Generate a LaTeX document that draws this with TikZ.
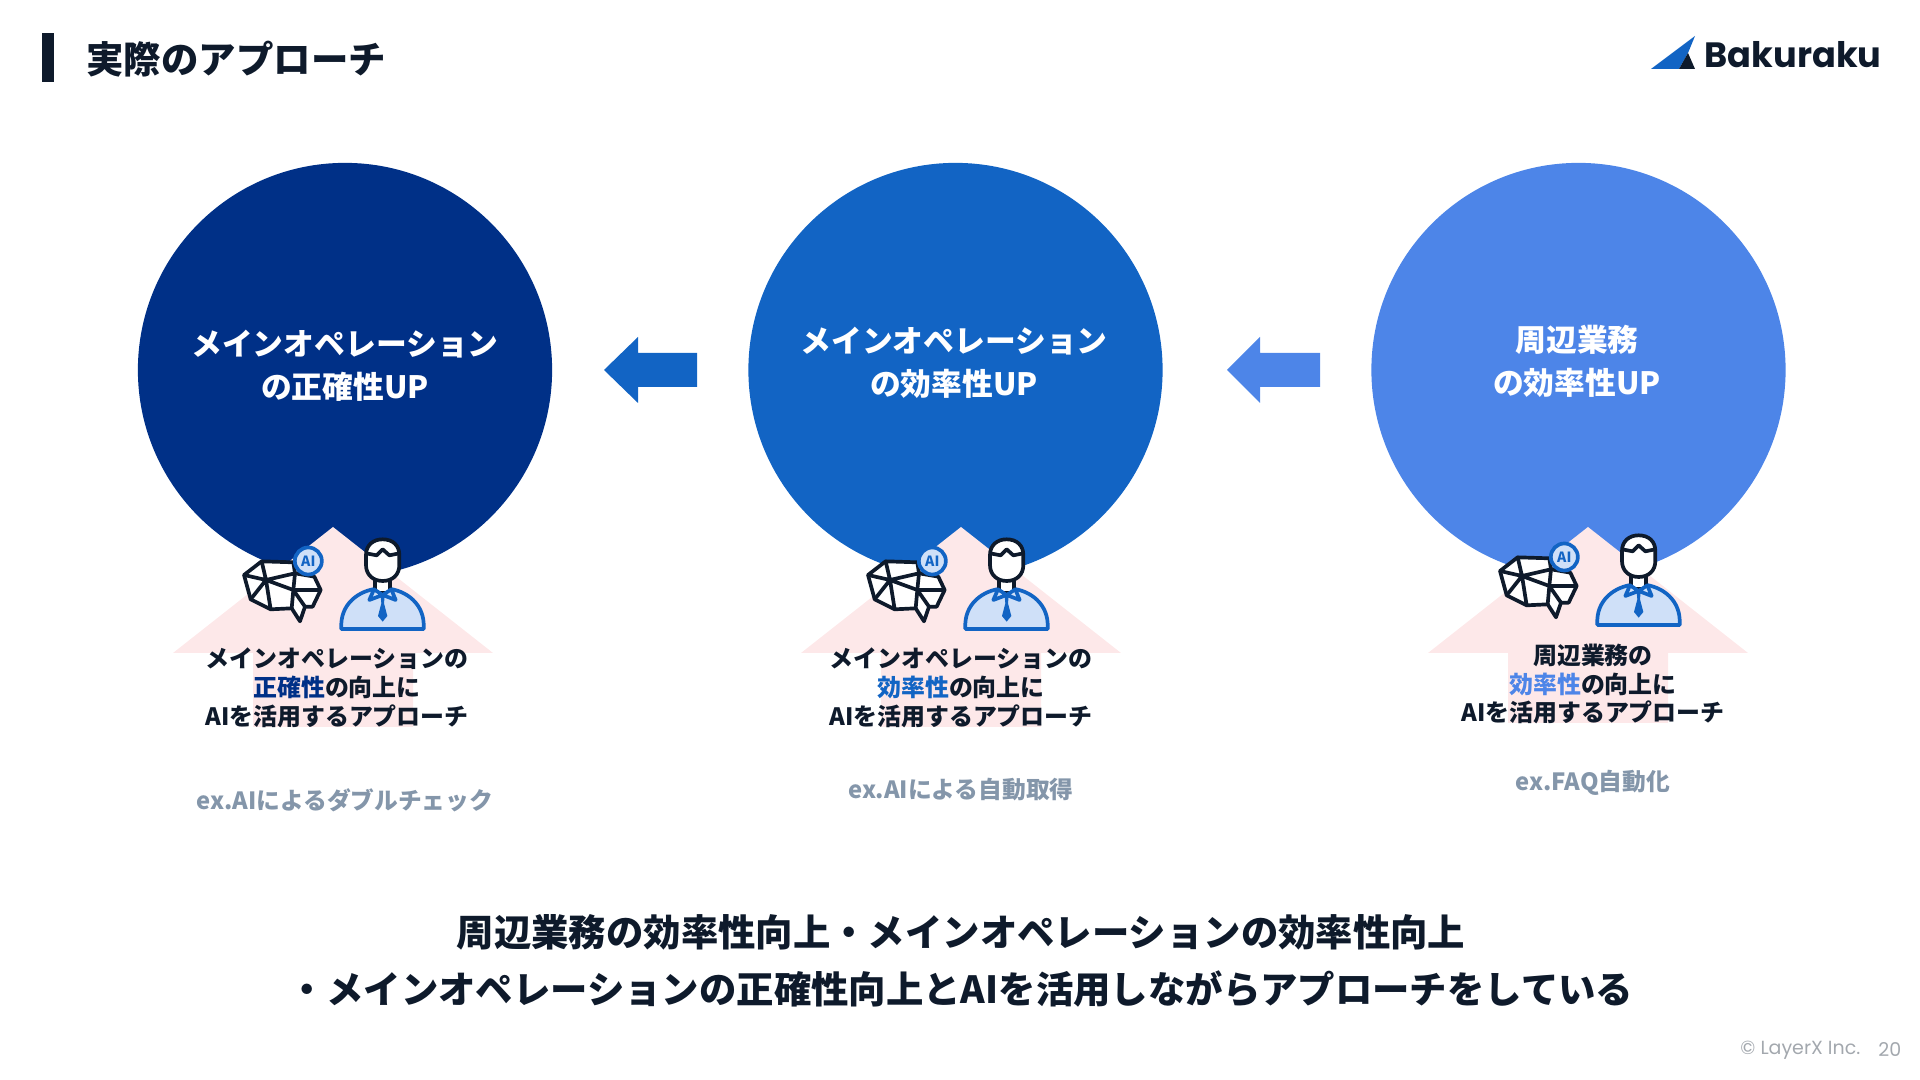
\documentclass[tikz,border=0pt]{standalone}
\usepackage{fontspec}
\setmainfont{Noto Sans CJK JP}
\newfontfamily\logofont{Poppins}
\usetikzlibrary{positioning}
\definecolor{inkdark}{HTML}{0E1A2B}
\definecolor{navyblue}{HTML}{003087}
\definecolor{midblue}{HTML}{1264C4}
\definecolor{lightblue}{HTML}{4D85E8}
\definecolor{palepink}{HTML}{FDE8E9}
\definecolor{paleblue}{HTML}{CFE0F8}
\definecolor{slategrey}{HTML}{8496AA}
\definecolor{footgrey}{HTML}{A3A8AE}
\tikzset{
  bigcircle/.style={circle, minimum size=4.14cm, inner sep=0pt},
  circletext/.style={align=center, text=white, font=\fontsize{8.75}{12.2}\selectfont\bfseries},
  smalltext/.style={align=center, text=inkdark, font=\fontsize{6.8}{8.2}\selectfont\bfseries},
  extext/.style={text=slategrey, font=\fontsize{6.75}{8}\selectfont\bfseries},
  iconline/.style={line width=1.05pt, line join=round},
  pics/aiperson/.style={code={
    % Robot brain
    \draw[iconline, fill=white, draw=inkdark]
      (42,135) -- (95,94) -- (190,97) -- (195,130) -- (253,140) -- (272,180) -- (248,230) -- (225,230)
      -- (210,274) -- (185,235) -- (122,238) -- (62,208) -- cycle;
    \draw[iconline, draw=inkdark]
      (95,94) -- (108,150) -- (190,180) -- (185,235)
      (42,135) -- (108,150) -- (62,208)
      (108,150) -- (122,238)
      (108,150) -- (195,130) -- (190,180) -- (272,180)
      (190,180) -- (225,230);
    \node[circle, minimum size=0.27cm, inner sep=0pt, fill=paleblue, draw=midblue, line width=1.05pt,
      text=midblue, font=\fontsize{4}{4}\selectfont\bfseries] (badge) at (235,93) {AI};
    % Person
    \draw[iconline, fill=paleblue, draw=midblue]
      (334,297) -- (334,280) .. controls (337,215) and (395,175) .. (458,175)
      .. controls (520,175) and (578,215) .. (581,280) -- (581,297) -- cycle;
    \draw[iconline, fill=white, draw=inkdark] (435,145) -- (435,190) -- (480,190) -- (480,145);
    \draw[iconline, fill=paleblue, draw=midblue]
      (432,178) -- (418,210) -- (458,195) -- (497,210) -- (484,178) -- (458,195) -- cycle;
    \fill[midblue] (452,198) -- (464,198) -- (462,220) -- (472,258) -- (458,275) -- (444,258) -- (454,220) -- cycle;
    \draw[iconline, fill=white, draw=inkdark]
      (408,75) .. controls (408,45) and (430,28) .. (458,28) .. controls (487,28) and (508,45) .. (508,75)
      -- (508,105) .. controls (508,135) and (487,153) .. (458,153) .. controls (430,153) and (408,135) .. (408,105) -- cycle;
    \draw[iconline, draw=inkdark]
      (408,70) -- (440,76) -- (458,58) -- (478,76) -- (508,70);
  }}
}
\begin{document}
\begin{tikzpicture}[x=0.01cm, y=-0.01cm]
  \useasboundingbox (0,0) rectangle (1920,1080);

  % Header
  \fill[inkdark] (42,33) rectangle (54,82);
  \node[text=inkdark, anchor=west, font=\fontsize{10.65}{12}\selectfont\bfseries] (title) at (74,59) {実際のアプローチ};
  \fill[midblue] (1651,69) -- (1695,36) -- (1688,53) -- (1679,69) -- cycle;
  \fill[inkdark] (1679,69) -- (1695,69) -- (1688,53) -- cycle;
  \node[text=inkdark, anchor=west, inner sep=0pt, font=\logofont\fontsize{10}{12}\selectfont\bfseries] (logo) at (1704,55) {Bakuraku};

  % Circles
  \node[bigcircle, fill=navyblue] (accuracy) at (345,370) {};
  \node[bigcircle, fill=midblue] (efficiency) at (955.5,370) {};
  \node[bigcircle, fill=lightblue] (periphery) at (1578.5,370) {};
  \node[circletext] (accuracytext) at (345,365.5) {メインオペレーション\\の正確性UP};
  \node[circletext] (efficiencytext) at (954,362.5) {メインオペレーション\\の効率性UP};
  \node[circletext] (peripherytext) at (1577,361.5) {周辺業務\\の効率性UP};

  % Left arrows
  \fill[midblue] (604,370) -- (638,337) -- (638,353) -- (697,353) -- (697,387) -- (638,387) -- (638,403) -- cycle;
  \fill[lightblue] (1227,370) -- (1260,337) -- (1260,353) -- (1320,353) -- (1320,387) -- (1260,387) -- (1260,403) -- cycle;

  % Up arrows
  \fill[palepink] (333,527) -- (493,653) -- (413,653) -- (413,727) -- (253,727) -- (253,653) -- (173,653) -- cycle;
  \fill[palepink] (961,527) -- (1121,653) -- (1041,653) -- (1041,727) -- (881,727) -- (881,653) -- (801,653) -- cycle;
  \fill[palepink] (1588,527) -- (1748,653) -- (1668,653) -- (1668,723) -- (1508,723) -- (1508,653) -- (1428,653) -- cycle;

  % Icons
  \pic[scale=1/3] at (230,530) {aiperson};
  \pic[scale=1/3] at (854,530) {aiperson};
  \pic[scale=1/3] at (1486,526) {aiperson};

  % Labels
  \node[smalltext] (accuracylabel) at (337,688) {メインオペレーションの\\\textcolor{navyblue}{正確性}の向上に\\AIを活用するアプローチ};
  \node[smalltext] (efficiencylabel) at (961,688) {メインオペレーションの\\\textcolor{midblue}{効率性}の向上に\\AIを活用するアプローチ};
  \node[smalltext] (peripherylabel) at (1593,684) {周辺業務の\\\textcolor{lightblue}{効率性}の向上に\\AIを活用するアプローチ};
  \node[extext] (accuracyex) at (345,800) {ex.AIによるダブルチェック};
  \node[extext] (efficiencyex) at (961,790) {ex.AIによる自動取得};
  \node[extext] (peripheryex) at (1593,783) {ex.FAQ自動化};

  % Summary
  \node[align=center, text=inkdark, font=\fontsize{10.63}{16.4}\selectfont\bfseries] (summary) at (961,961)
    {周辺業務の効率性向上・メインオペレーションの効率性向上\\・メインオペレーションの正確性向上とAIを活用しながらアプローチをしている};

  % Footer
  \node[text=footgrey, anchor=east, inner sep=0pt, font=\logofont\fontsize{5.4}{6}\selectfont] (copyright) at (1861,1050) {© LayerX Inc.};
  \node[text=footgrey, anchor=east, inner sep=0pt, font=\logofont\fontsize{5.4}{6}\selectfont] (pageno) at (1902,1050) {20};
\end{tikzpicture}
\end{document}
